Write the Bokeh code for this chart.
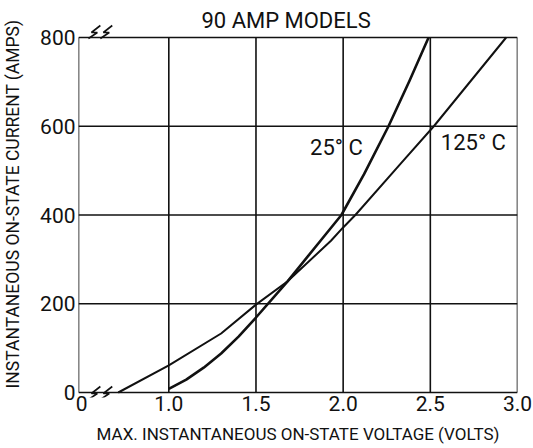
from bokeh.plotting import figure
from bokeh.models import FixedTicker, Range1d, ColumnDataSource
from bokeh.embed import file_html
from bokeh.resources import INLINE
from bokeh.core.properties import value

# ---------------- data ----------------
TITLE = "90 AMP MODELS"
X_LABEL = "MAX. INSTANTANEOUS ON-STATE VOLTAGE (VOLTS)"
Y_LABEL = "INSTANTANEOUS ON-STATE CURRENT (AMPS)"

x_ticks = [0.5, 1.0, 1.5, 2.0, 2.5, 3.0]
x_tick_labels = ["0", "1.0", "1.5", "2.0", "2.5", "3.0"]
y_ticks = [0, 200, 400, 600, 800]
y_tick_labels = ["0", "200", "400", "600", "800"]

series_names = ["25° C", "125° C"]

v_25c = [1.0, 1.1, 1.2, 1.3, 1.4, 1.5, 1.68, 1.87, 1.99, 2.12, 2.26, 2.38, 2.49]
i_25c = [8, 29, 56, 88, 126, 169, 250, 342, 400, 492, 600, 702, 800]

v_125c = [0.71, 1.0, 1.3, 1.5, 1.68, 1.93, 2.0, 2.07, 2.335, 2.52, 2.935]
i_125c = [0, 61, 133, 198, 250, 342, 372, 400, 518, 600, 800]

# ---------------- styling ----------------
FONT = "Roboto"
INK = "#111111"
X0, X1 = 0.482, 3.0          # visible voltage span (left edge is the broken axis)
Y0, Y1 = 0, 800
PX_W, PX_H = 442.0, 355.0     # pixel size of the 0..800 box
dx = (X1 - X0) / PX_W
dy = (Y1 - Y0) / PX_H
PAD_TOP, PAD_BOT = 27, 5      # extra frame room (px) for title and break marks

p = figure(width=533, height=448,
           x_range=Range1d(X0, X1),
           y_range=Range1d(Y0 - PAD_BOT * dy, Y1 + PAD_TOP * dy),
           output_backend="svg", toolbar_location=None,
           min_border_left=75, min_border_right=16,
           min_border_top=37 - PAD_TOP, min_border_bottom=56 - PAD_BOT)
p.background_fill_color = "white"
p.border_fill_color = "white"
p.outline_line_color = None
p.xgrid.visible = False
p.ygrid.visible = False

# axes (labels only; the box is drawn below)
p.xaxis.ticker = FixedTicker(ticks=x_ticks)
p.xaxis.major_label_overrides = dict(zip(x_ticks, x_tick_labels))
p.yaxis.ticker = FixedTicker(ticks=y_ticks)
p.yaxis.major_label_overrides = dict(zip(y_ticks, y_tick_labels))
p.xaxis.axis_label = X_LABEL
p.yaxis.axis_label = Y_LABEL
for ax in (p.xaxis, p.yaxis):
    ax.axis_line_color = None
    ax.major_tick_line_color = None
    ax.minor_tick_line_color = None
    ax.major_tick_out = 0
    ax.major_tick_in = 0
    ax.major_label_text_font = FONT
    ax.major_label_text_font_size = "21px"
    ax.major_label_text_color = INK
    ax.axis_label_text_font = FONT
    ax.axis_label_text_font_style = "normal"
    ax.axis_label_text_color = INK
p.xaxis.axis_label_text_font_size = "17px"
p.yaxis.axis_label_text_font_size = "17.5px"
p.xaxis.major_label_standoff = -2
p.yaxis.major_label_standoff = 3
p.xaxis.axis_label_standoff = 10
p.yaxis.axis_label_standoff = 14

# box and grid lines (from the tick values)
gx = [X0] + x_ticks[1:]
p.segment(x0=gx, y0=[Y0] * len(gx), x1=gx, y1=[Y1] * len(gx),
          line_color=INK, line_width=1.6)
p.segment(x0=[X0] * len(y_ticks), y0=y_ticks, x1=[X1] * len(y_ticks), y1=y_ticks,
          line_color=INK, line_width=1.6)

# curves
p.line(v_25c, i_25c, line_color=INK, line_width=2.6, line_join="round")
p.line(v_125c, i_125c, line_color=INK, line_width=2.0, line_join="round")

# curve labels
lab = ColumnDataSource(dict(x=[1.81, 2.56], y=[552, 563], t=series_names))
p.text(x="x", y="y", text="t", source=lab, text_font=value(FONT),
       text_font_size="22px", text_color=INK, text_align="left",
       text_baseline="alphabetic")

# title (drawn inside the extended frame)
p.text(x=[X0 + 209 * dx], y=[Y1 + 17 * dy], text=[TITLE], text_font=value(FONT),
       text_font_size="22px", text_color=INK, text_align="center",
       text_baseline="alphabetic")

# axis-break marks (decoration): pixel offsets converted to data units
bolt = [(12, 11), (3, 4), (9, 4), (0, -2)]
xs, ys = [], []
for base_y, shift in ((Y1, 1), (Y0, -5)):
    for off in (10, 22):
        xs.append([X0 + (off + bx) * dx for bx, by in bolt])
        ys.append([base_y + (by + shift) * dy for bx, by in bolt])
p.multi_line(xs, ys, line_color=INK, line_width=1.6)

open("out.html", "w").write(file_html(p, INLINE))
